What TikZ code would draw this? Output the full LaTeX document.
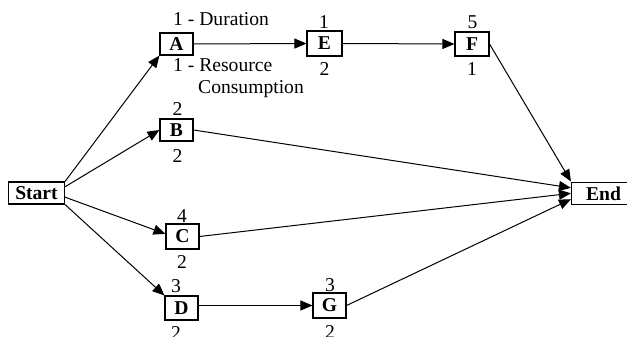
\documentclass[tikz,border=0pt]{standalone}
\usepackage{fontspec}
\setmainfont{Liberation Serif}
\usetikzlibrary{arrows.meta,calc}
\begin{document}
\begin{tikzpicture}[x=1pt,y=-1pt,
  every node/.style={font=\fontsize{19.6}{22}\selectfont},
  box/.style={draw,line width=1.1pt,inner sep=0pt,font=\fontsize{19.6}{22}\selectfont\bfseries},
  lbl/.style={inner sep=0pt},
  arr/.style={line width=1pt,-{Triangle[length=12pt,width=10pt]}}]
\useasboundingbox (0,0) rectangle (627,337);
% boxes
\node[box,minimum width=56,minimum height=22] (start) at (36.5,193) {Start};
\node[box,minimum width=33,minimum height=22] (A) at (176.5,44) {A};
\node[box,minimum width=33,minimum height=22] (B) at (176.5,130) {B};
\node[box,minimum width=33,minimum height=25] (C) at (182.5,236.5) {C};
\node[box,minimum width=33,minimum height=24] (D) at (181.5,308) {D};
\node[box,minimum width=33,minimum height=25] (G) at (329.5,305.5) {G};
\node[box,minimum width=35,minimum height=25] (E) at (324.5,43.5) {E};
\node[box,minimum width=34,minimum height=24] (F) at (472,44) {F};
\node[box,minimum width=64,minimum height=22.5] (End) at (603.5,193.3) {End};
% labels
\node[lbl,anchor=base west] (durA) at (173,26) {1 - Duration};
\node[lbl,anchor=base west] (resA) at (173,72) {1 - Resource};
\node[lbl,anchor=base west] (conA) at (198,93) {Consumption};
\node[lbl,anchor=base] (dB) at (177.5,115) {2};
\node[lbl,anchor=base] (rB) at (177.5,162) {2};
\node[lbl,anchor=base] (dC) at (182,222) {4};
\node[lbl,anchor=base] (rC) at (182,268) {2};
\node[lbl,anchor=base] (dD) at (176,292) {3};
\node[lbl,anchor=base] (rD) at (176,339) {2};
\node[lbl,anchor=base] (dG) at (330,291) {3};
\node[lbl,anchor=base] (rG) at (330,338) {2};
\node[lbl,anchor=base] (dE) at (324,29) {1};
\node[lbl,anchor=base] (rE) at (324.5,76) {2};
\node[lbl,anchor=base] (dF) at (472.5,29) {5};
\node[lbl,anchor=base] (rF) at (472,76) {1};
% connectors
\draw[arr] (start.north east) -- (A.south west);
\draw[arr] ($(start.north east)!0.23!(start.south east)$) -- (B.west);
\draw[arr] ($(start.north east)!0.68!(start.south east)$) -- ($(C.north west)!0.4!(C.south west)$);
\draw[arr] (start.south east) -- (D.north west);
\draw[arr] (A.east) -- (E.west);
\draw[arr] (E.east) -- (F.west);
\draw[arr] (D.east |- G.west) -- (G.west);
\draw[arr] (F.east) -- (End.north west);
\draw[arr] (B.east) -- ($(End.north west)!0.27!(End.south west)$);
\draw[arr] (C.east) -- ($(End.north west)!0.5!(End.south west)$);
\draw[arr] (G.east) -- ($(End.north west)!0.75!(End.south west)$);
\end{tikzpicture}
\end{document}
